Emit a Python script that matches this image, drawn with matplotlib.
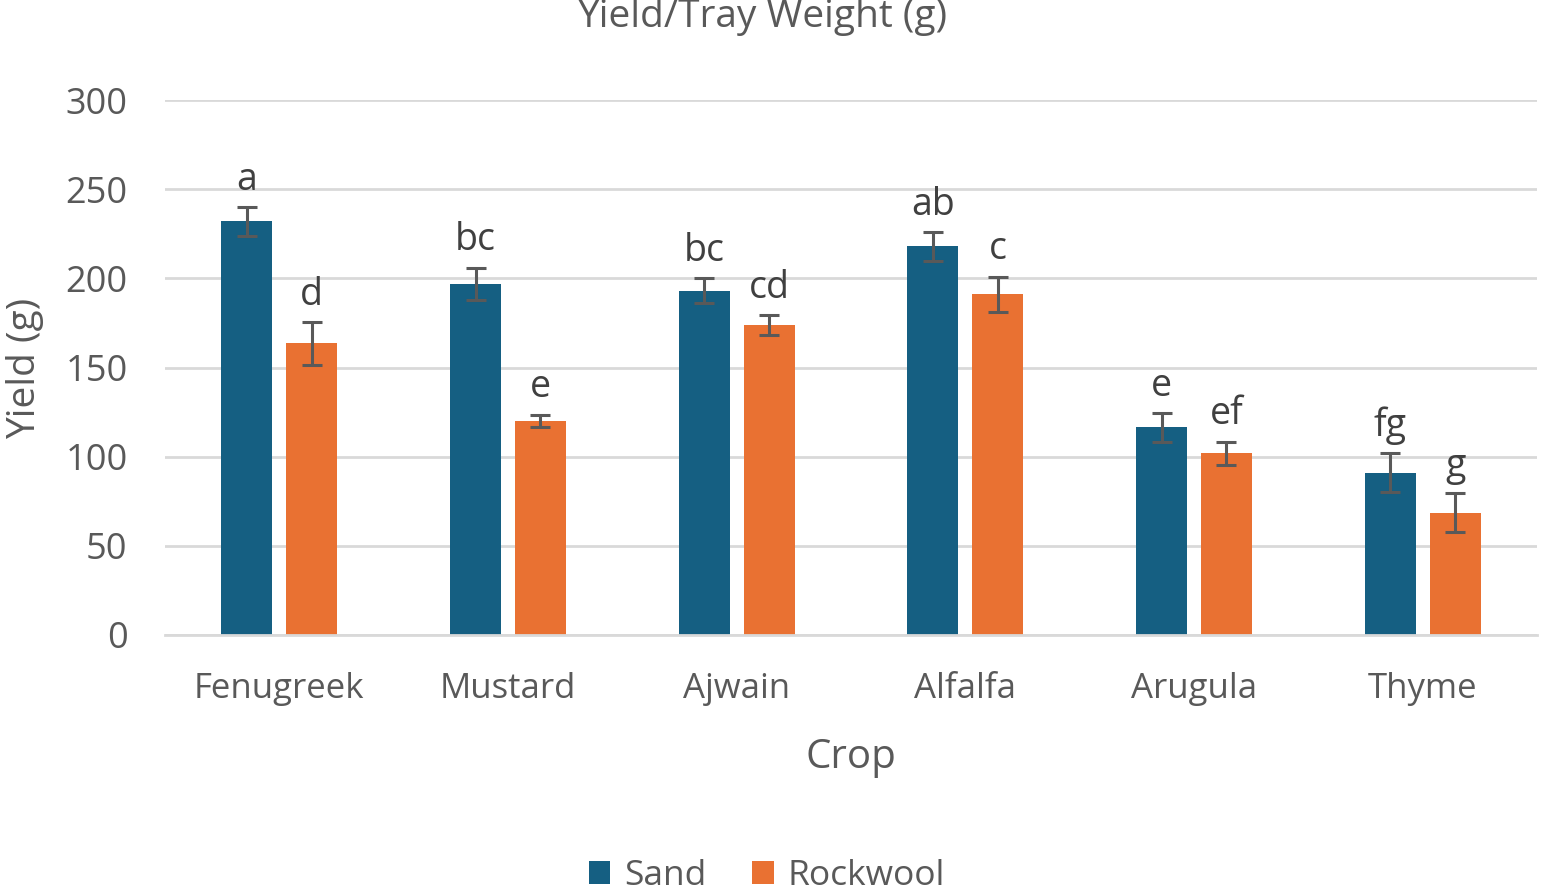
import numpy as np
import matplotlib
matplotlib.use("Agg")
import matplotlib.pyplot as plt

crops = ["Fenugreek", "Mustard", "Ajwain", "Alfalfa", "Arugula", "Thyme"]
sand = [232, 197, 193, 218, 116.5, 91]
sand_err = [8, 9, 7, 8, 8, 11]
rock = [163.5, 120, 174, 191, 102, 68.5]
rock_err = [12, 3.5, 5.5, 10, 6.5, 11]
sand_letters = ["a", "bc", "bc", "ab", "e", "fg"]
rock_letters = ["d", "e", "cd", "c", "ef", "g"]

TXT = "#595959"
plt.rcParams['font.family'] = ['Open Sans', 'DejaVu Sans']

fig = plt.figure(figsize=(15.44, 8.96), dpi=100)
ax = fig.add_axes([165 / 1544, 1 - 635 / 896, (1537 - 165) / 1544, 535 / 896])

x = np.arange(len(crops))
w = 0.223
off = 0.142
ekw = dict(ecolor=TXT, elinewidth=2.2, capsize=7, capthick=2.2)
ax.bar(x - off, sand, w, color="#155F82", yerr=sand_err, error_kw=ekw, label="Sand", zorder=2)
ax.bar(x + off, rock, w, color="#E97132", yerr=rock_err, error_kw=ekw, label="Rockwool", zorder=2)

for i in range(len(crops)):
    ax.annotate(sand_letters[i], (x[i] - off, sand[i] + sand_err[i]), xytext=(0, 6),
                textcoords="offset points", ha="center", va="bottom", fontsize=27, color="#404040")
    ax.annotate(rock_letters[i], (x[i] + off, rock[i] + rock_err[i]), xytext=(0, 6),
                textcoords="offset points", ha="center", va="bottom", fontsize=27, color="#404040")

ax.set_xlim(-0.5, len(crops) - 0.5)
ax.set_ylim(0, 300)
ax.set_yticks(range(0, 301, 50))
ax.yaxis.grid(True, color="#D9D9D9", linewidth=2, zorder=0)
ax.set_axisbelow(True)
ax.set_xticks(x)
ax.set_xticklabels(crops)
ax.tick_params(axis="both", length=0, labelsize=26, colors=TXT)
ax.tick_params(axis="x", pad=27, labelsize=25)
ax.tick_params(axis="y", pad=27)
for s in ["top", "right", "left"]:
    ax.spines[s].set_visible(False)
ax.spines["bottom"].set_color("#D9D9D9")
ax.spines["bottom"].set_linewidth(2)

ax.set_xlabel("Crop", fontsize=29, color=TXT, labelpad=22)
fig.text(25 / 1544, 1 - 368 / 896, "Yield (g)", rotation=90, ha="center", va="center",
         fontsize=28, color=TXT)
fig.text(762 / 1544, 1 - 17 / 896, "Yield/Tray Weight (g)", ha="center", va="center",
         fontsize=28, color=TXT)

fig.legend(loc="center", bbox_to_anchor=(767 / 1544, 1 - 876 / 896), ncol=2, frameon=False,
           fontsize=25.5, labelcolor=TXT, handlelength=0.6, handleheight=0.6,
           handletextpad=0.4, columnspacing=1.3)

fig.savefig("out.png", dpi=100)
